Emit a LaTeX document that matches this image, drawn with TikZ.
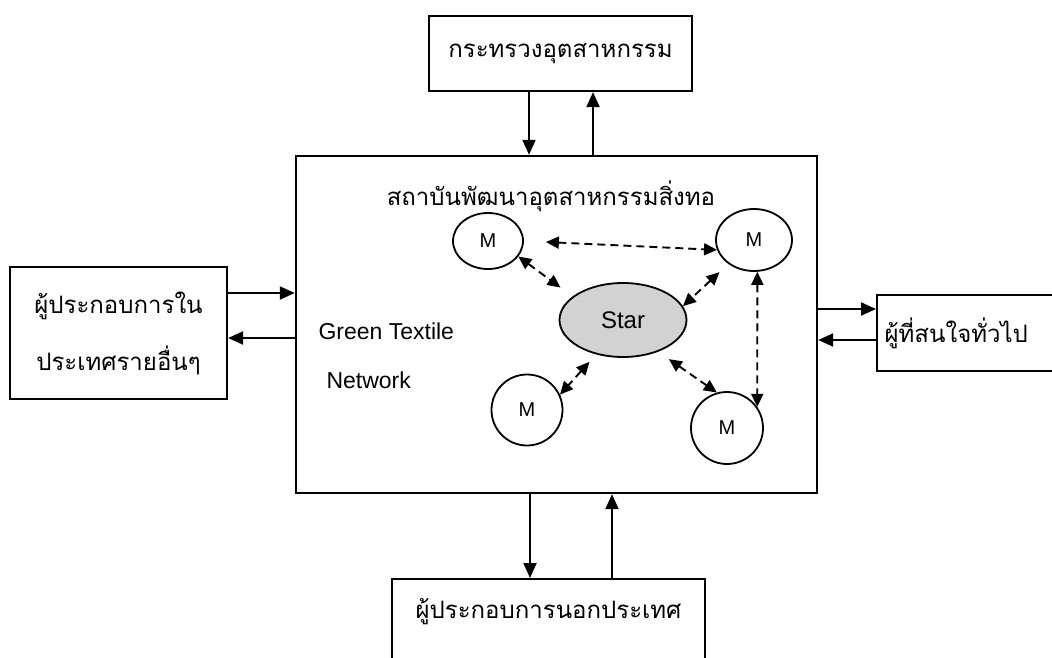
\documentclass[tikz,border=0pt]{standalone}
\usepackage{fontspec}
\setmainfont{Liberation Sans}
\newfontfamily\thaifont[Script=Thai]{Loma}
\usetikzlibrary{arrows.meta,shapes.geometric}

\begin{document}
\begin{tikzpicture}[x=1pt,y=-1pt,>={Triangle[length=15pt,width=13pt]},
    box/.style={draw,line width=2.2pt,inner sep=0pt},
    thai/.style={font=\thaifont\fontsize{24}{28}\selectfont},
    mem/.style={draw,ellipse,line width=1.8pt,inner sep=0pt,font=\fontsize{20}{24}\selectfont},
    link/.style={->,line width=2.1pt},
    dlink/.style={<->,line width=1.9pt,dash pattern=on 8pt off 5pt,>={Triangle[length=13pt,width=12pt]}}]
      \useasboundingbox (0,0) rectangle (1052,658);
      \clip (0,0) rectangle (1052,658);

      % outer parties
      \node[box,thai,minimum width=263pt,minimum height=75pt] (indus)   at (560.5,53.5) {กระทรวงอุตสาหกรรม};
      \node[box,thai,minimum width=217pt,minimum height=132pt,align=center,
            font=\thaifont\fontsize{24}{57}\selectfont]       (local)   at (118.5,333) {ผู้ประกอบการใน\\ประเทศรายอื่นๆ};
      \node[box,thai,anchor=west,minimum width=190pt,minimum height=76pt,
            text width=175pt,align=left]                       (general) at (876,333) {ผู้ที่สนใจทั่วไป};
      \node[box,thai,anchor=north,minimum width=313pt,inner ysep=9pt,
            text height=30pt,text depth=60pt]                  (abroad)  at (548.5,578) {ผู้ประกอบการนอกประเทศ};

      % the network
      \node[box,line width=2.4pt,minimum width=521pt,minimum height=337pt] (tti) at (556.5,324.5) {};
      \node[thai]                 (title) at (551,196) {สถาบันพัฒนาอุตสาหกรรมสิ่งทอ};
      \node[anchor=west,font=\fontsize{23}{26}\selectfont] (green) at (315,331) {Green Textile};
      \node[anchor=west,font=\fontsize{23}{26}\selectfont] (net)   at (323,380) {Network};

      \node[mem,minimum width=70pt,minimum height=56pt] (m1) at (488,241) {M};
      \node[mem,minimum width=76pt,minimum height=62pt] (m2) at (754,240) {M};
      \node[mem,minimum size=71pt]                      (m3) at (527,410) {M};
      \node[mem,minimum size=72pt]                      (m4) at (727,428) {M};
      \node[mem,fill=gray!35,minimum width=127pt,minimum height=74pt,
            font=\fontsize{24}{28}\selectfont]           (star) at (623,320) {Star};

      % exchanges with the outside
      \draw[link] ([xshift=-31.5pt]indus.south) -- ([xshift=-31.5pt]indus.south |- tti.north);
      \draw[link] ([xshift=32.5pt]indus.south |- tti.north) -- ([xshift=32.5pt]indus.south);
      \draw[link] ([yshift=40pt]local.east) -- ([yshift=40pt]local.east -| tti.west);
      \draw[link] ([yshift=-5pt]local.east -| tti.west) -- ([yshift=-5pt]local.east);
      \draw[link] ([yshift=24pt]general.west -| tti.east) -- ([yshift=24pt]general.west);
      \draw[link] ([yshift=-7pt]general.west) -- ([yshift=-7pt]general.west -| tti.east);
      \draw[link] ([xshift=-18.5pt]abroad.north |- tti.south) -- ([xshift=-18.5pt]abroad.north);
      \draw[link] ([xshift=63.5pt]abroad.north) -- ([xshift=63.5pt]abroad.north |- tti.south);

      % links inside the network
      \draw[dlink,shorten <=22pt] (m1.east)  -- (m2.195);
      \draw[dlink,shorten >=15pt] (m1.-27)   -- (star.155);
      \draw[dlink,shorten <=12pt] (m2.223)   -- (star.13);
      \draw[dlink]                (m2.-84)   -- (m4.35);
      \draw[dlink,shorten <=10pt] (star.232) -- (m3.25);
      \draw[dlink,shorten <=13pt] (star.-42) -- (m4.106);
    \end{tikzpicture}
\end{document}
